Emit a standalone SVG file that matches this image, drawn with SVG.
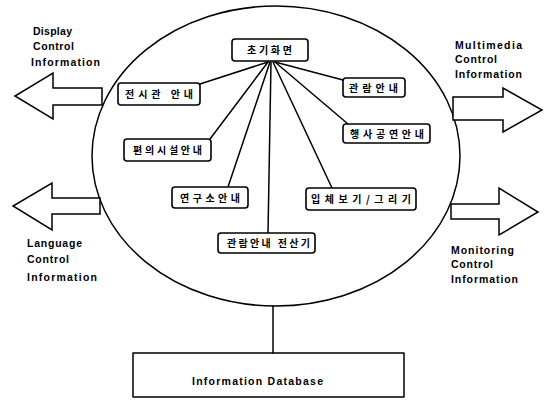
<svg xmlns="http://www.w3.org/2000/svg" width="548" height="400" viewBox="0 0 548 400">
  <style>
    .ln { fill: none; stroke: #000; stroke-width: 1.5; stroke-linecap: round; stroke-linejoin: round; }
    .arrow { fill: #fff; stroke: #000; stroke-width: 1.5; stroke-linejoin: miter; }
    .node rect { fill: #fff; stroke: #000; stroke-width: 1.6; }
    .kr { font-family: "Noto Sans CJK KR", "Noto Sans", sans-serif; font-size: 10px; font-weight: bold; fill: #000; }
    .en { font-family: "Liberation Sans", Arial, sans-serif; font-size: 10.5px; font-weight: bold; fill: #000; }
  </style>

  <!-- system boundary -->
  <ellipse id="system" class="ln" cx="276" cy="156" rx="184" ry="150"/>

  <!-- connectors from the start screen to each menu -->
  <g id="connectors" class="ln">
    <line x1="268" y1="62" x2="200" y2="84"/>
    <line x1="275" y1="62" x2="343" y2="80"/>
    <line x1="275" y1="62" x2="348" y2="124"/>
    <line x1="268" y1="62" x2="210" y2="139"/>
    <line x1="270" y1="62" x2="228" y2="187"/>
    <line x1="271" y1="62" x2="268" y2="233"/>
    <line x1="273" y1="62" x2="332" y2="188"/>
    <line x1="273" y1="306" x2="273" y2="353"/>
  </g>

  <!-- menu nodes -->
  <g id="start" class="node">
    <rect x="232" y="39" width="76" height="22" rx="3"/>
    <text class="kr" x="247" y="54" textLength="45" lengthAdjust="spacing">초기화면</text>
  </g>
  <g id="hall" class="node">
    <rect x="118" y="83" width="82" height="22" rx="3"/>
    <text class="kr" x="125" y="98" textLength="68" lengthAdjust="spacing">전시관 안내</text>
  </g>
  <g id="visit" class="node">
    <rect x="343" y="78" width="62" height="19" rx="3"/>
    <text class="kr" x="349" y="92" textLength="49" lengthAdjust="spacing">관람안내</text>
  </g>
  <g id="events" class="node">
    <rect x="343" y="124" width="87" height="19" rx="3"/>
    <text class="kr" x="350" y="138" textLength="74" lengthAdjust="spacing">행사공연안내</text>
  </g>
  <g id="facilities" class="node">
    <rect x="124" y="139" width="87" height="22" rx="3"/>
    <text class="kr" x="133" y="154" textLength="69" lengthAdjust="spacing">편의시설안내</text>
  </g>
  <g id="institute" class="node">
    <rect x="172" y="187" width="76" height="21" rx="3"/>
    <text class="kr" x="180" y="202" textLength="60" lengthAdjust="spacing">연구소안내</text>
  </g>
  <g id="view3d" class="node">
    <rect x="306" y="188" width="110" height="22" rx="3"/>
    <text class="kr" x="311" y="203" textLength="100" lengthAdjust="spacing">입체보기/그리기</text>
  </g>
  <g id="guide" class="node">
    <rect x="218" y="233" width="97" height="20" rx="3"/>
    <text class="kr" x="227" y="247" textLength="83" lengthAdjust="spacing">관람안내 전산기</text>
  </g>

  <!-- database -->
  <g id="database">
    <rect class="ln" x="133" y="353" width="271" height="44"/>
    <text class="en" x="192" y="385" textLength="131" lengthAdjust="spacing" font-weight="normal">Information Database</text>
  </g>

  <!-- control outputs -->
  <g id="display-ctrl">
    <path class="arrow" d="M102,88 H53 V73 L15,96 L53,119 V105 H102 Z"/>
    <text class="en" x="33" y="35" textLength="39" lengthAdjust="spacing">Display</text>
    <text class="en" x="33" y="50" textLength="41" lengthAdjust="spacing">Control</text>
    <text class="en" x="31" y="66" textLength="69" lengthAdjust="spacing">Information</text>
  </g>
  <g id="language-ctrl">
    <path class="arrow" d="M100,198 H52 V183 L13,206 L52,230 V214 H100 Z"/>
    <text class="en" x="27" y="247" textLength="55" lengthAdjust="spacing">Language</text>
    <text class="en" x="27" y="263" textLength="42" lengthAdjust="spacing">Control</text>
    <text class="en" x="27" y="281" textLength="70" lengthAdjust="spacing">Information</text>
  </g>
  <g id="multimedia-ctrl">
    <path class="arrow" d="M453,97 H503 V88 L542,110 L503,132 V120 H453 Z"/>
    <text class="en" x="455" y="49" textLength="67" lengthAdjust="spacing">Multimedia</text>
    <text class="en" x="455" y="63" textLength="42" lengthAdjust="spacing">Control</text>
    <text class="en" x="455" y="78" textLength="67" lengthAdjust="spacing">Information</text>
  </g>
  <g id="monitoring-ctrl">
    <path class="arrow" d="M451,204 H499 V188 L538,212 L499,235 V219 H451 Z"/>
    <text class="en" x="451" y="254" textLength="63" lengthAdjust="spacing">Monitoring</text>
    <text class="en" x="451" y="268" textLength="42" lengthAdjust="spacing">Control</text>
    <text class="en" x="451" y="283" textLength="67" lengthAdjust="spacing">Information</text>
  </g>
</svg>
